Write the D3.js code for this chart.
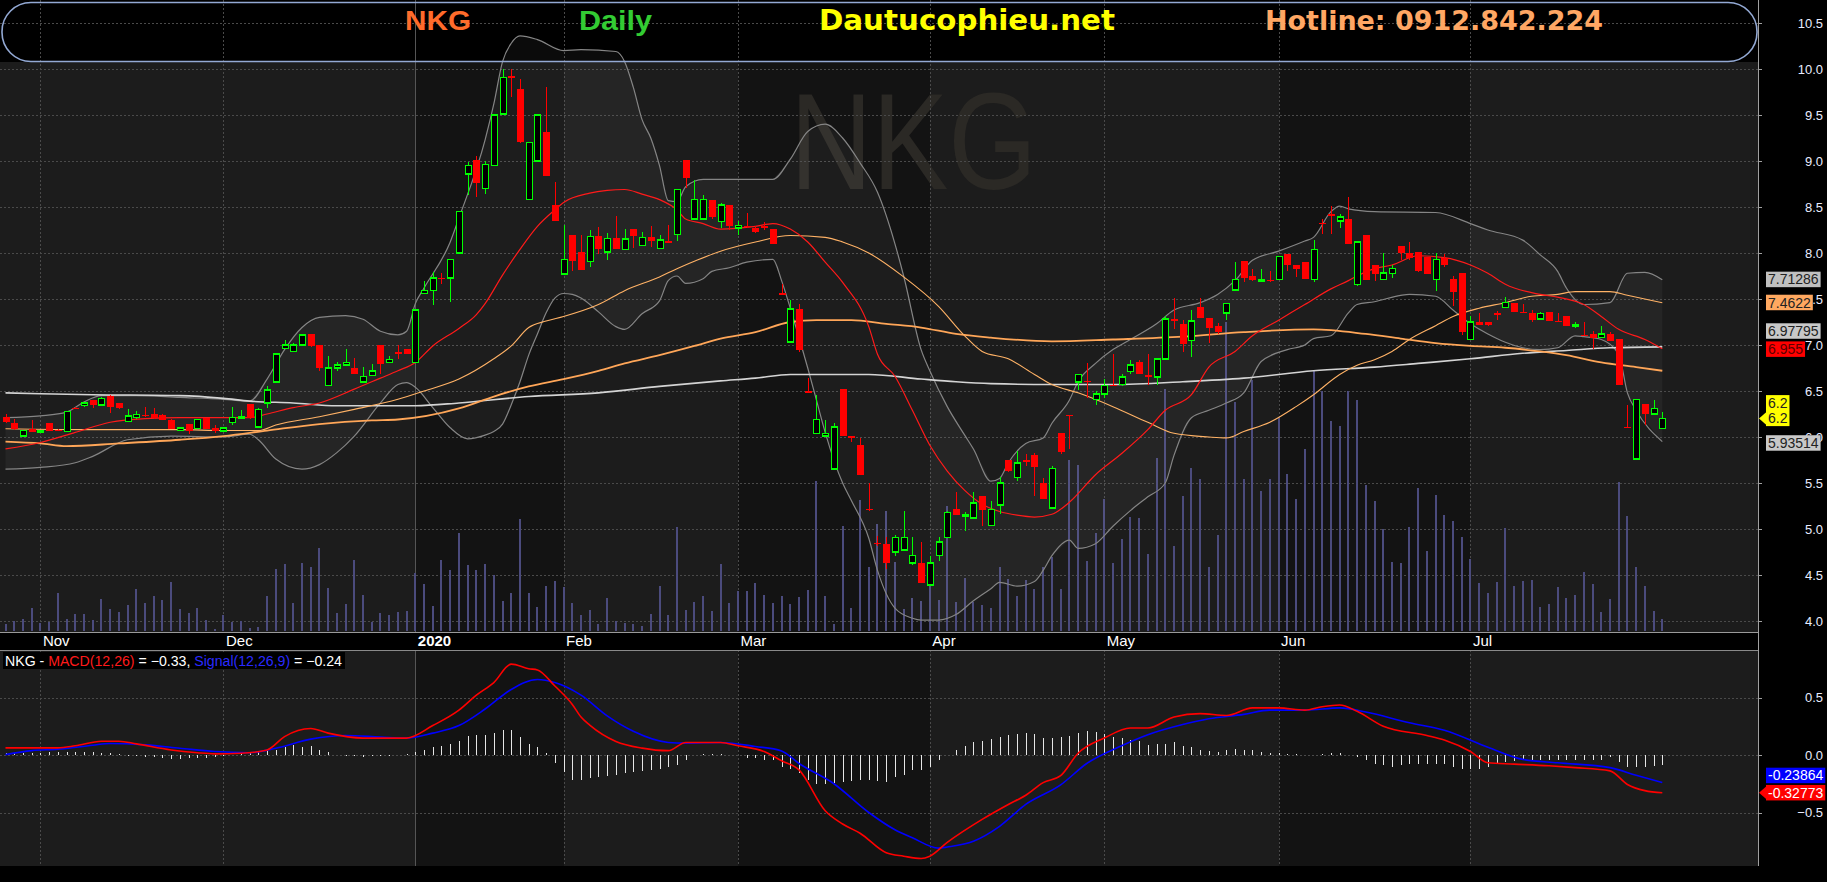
<!DOCTYPE html>
<html><head><meta charset="utf-8">
<script src="https://cdn.jsdelivr.net/npm/d3@7"></script>
<style>html,body{margin:0;padding:0;background:#000;overflow:hidden}svg{display:block}</style>
</head><body><svg id="c" width="1827" height="882"></svg>
<script>
// ---------------- DATA ----------------
const open=[6.22,6.155,6.01,6.09,6.055,6.15,6.08,6.06,6.32,6.34,
6.40,6.35,6.45,6.37,6.17,6.21,6.24,6.245,6.24,6.19,
6.07,6.145,6.09,6.21,6.094,6.065,6.156,6.21,6.355,6.11,
6.37,6.60,6.96,6.93,7.00,7.115,6.995,6.56,6.75,6.78,
6.75,6.60,6.67,7.00,6.81,6.92,6.96,6.81,7.56,7.59,
7.73,7.73,8.00,8.86,9.01,8.70,8.95,9.51,9.92,9.78,
8.58,9.00,9.31,8.52,7.77,8.20,8.01,7.91,8.18,8.01,
8.16,8.04,8.26,8.08,8.17,8.05,8.13,8.20,9.01,8.37,
8.37,8.58,8.34,8.52,8.27,8.295,8.27,8.29,8.26,7.56,
7.03,7.39,6.50,6.04,6.01,5.65,6.52,6.01,5.91,5.22,
4.85,4.84,4.75,4.77,4.63,4.63,4.39,4.71,4.91,5.22,
5.14,5.12,5.36,5.04,5.26,5.75,5.56,5.75,5.80,5.50,
5.23,6.04,6.24,6.60,6.61,6.41,6.47,6.57,6.57,6.71,
6.81,6.67,6.65,6.85,7.28,7.23,7.05,7.41,7.29,7.21,
7.35,7.60,7.91,7.75,7.70,7.71,7.71,7.99,7.87,7.90,
7.71,8.33,8.42,8.35,8.37,7.66,8.20,7.87,7.71,7.775,
8.08,8.00,8.01,7.96,7.71,7.95,7.72,7.78,7.06,7.25,
7.25,7.35,7.41,7.46,7.36,7.35,7.28,7.36,7.265,7.31,
7.21,7.11,7.12,7.08,7.12,7.06,6.11,5.76,6.36,6.25,
6.09];
const high=[6.25,6.2,6.07,6.19,6.07,6.15,6.085,6.275,6.33,6.38,
6.40,6.44,6.46,6.37,6.30,6.28,6.33,6.31,6.245,6.20,
6.10,6.145,6.19,6.21,6.135,6.10,6.33,6.29,6.355,6.32,
6.55,6.90,7.05,7.02,7.11,7.115,6.995,6.88,6.82,6.96,
6.86,6.76,6.79,7.00,6.88,7.00,6.96,7.38,7.70,7.79,
7.78,7.93,8.45,8.99,9.05,9.00,9.50,10.0,10.0,9.89,
9.20,9.50,9.80,8.77,8.30,8.20,8.20,8.25,8.28,8.22,
8.40,8.26,8.26,8.23,8.29,8.20,8.30,8.69,9.01,8.79,
8.63,8.58,8.54,8.52,8.35,8.44,8.29,8.34,8.26,7.66,
7.49,7.45,6.64,6.46,6.19,6.15,6.52,6.01,5.99,5.50,
4.92,4.91,4.94,5.20,4.91,4.86,4.71,4.91,5.20,5.40,
5.18,5.40,5.36,5.30,5.57,5.75,5.85,5.81,5.83,5.55,
5.69,6.04,6.24,6.68,6.80,6.50,6.63,6.90,6.68,6.84,
6.84,6.90,6.85,7.32,7.51,7.27,7.38,7.51,7.29,7.24,
7.45,7.90,7.91,7.83,7.83,7.80,7.96,7.99,7.87,7.90,
8.14,8.37,8.51,8.42,8.61,8.12,8.20,7.87,8.00,7.87,
8.08,8.12,8.01,7.96,8.00,7.99,7.75,7.78,7.31,7.35,
7.25,7.37,7.52,7.46,7.45,7.38,7.36,7.36,7.35,7.31,
7.25,7.25,7.15,7.21,7.14,7.06,6.35,6.41,6.36,6.40,
6.27];
const low=[6.15,6.08,6.0,6.05,6.05,6.06,6.07,6.05,6.30,6.33,
6.32,6.35,6.26,6.30,6.16,6.20,6.22,6.20,6.18,6.09,
6.06,6.03,6.09,6.09,6.045,6.06,6.13,6.21,6.20,6.11,
6.32,6.60,6.96,6.93,7.00,6.98,6.72,6.56,6.72,6.78,
6.68,6.60,6.67,6.69,6.81,6.85,6.905,6.81,7.56,7.43,
7.66,7.47,8.00,8.63,8.61,8.64,8.95,9.50,9.70,9.20,
8.58,9.00,8.84,8.35,7.77,7.80,7.81,7.85,7.99,7.92,
8.04,8.04,8.05,8.08,8.07,8.05,8.12,8.13,8.71,8.37,
8.37,8.37,8.27,8.25,8.20,8.27,8.22,8.25,8.10,7.55,
7.03,6.92,6.49,6.04,6.01,5.65,6.01,5.95,5.59,5.20,
4.82,4.57,4.71,4.77,4.61,4.41,4.39,4.65,4.91,5.15,
4.98,5.12,5.03,5.04,5.16,5.62,5.52,5.69,5.36,5.33,
5.23,5.81,5.87,6.51,6.42,6.35,6.42,6.565,6.55,6.69,
6.68,6.57,6.56,6.85,7.17,6.92,6.87,7.29,7.02,7.12,
7.27,7.60,7.68,7.70,7.70,7.69,7.71,7.80,7.74,7.72,
7.68,8.21,8.21,8.27,8.10,7.64,7.71,7.70,7.71,7.73,
7.92,7.92,7.79,7.775,7.59,7.85,7.42,7.11,7.06,7.22,
7.21,7.27,7.41,7.36,7.355,7.25,7.28,7.26,7.26,7.21,
7.19,7.11,6.96,7.08,7.04,6.56,6.11,5.76,6.13,6.25,
6.09];
const close=[6.16,6.09,6.07,6.054,6.07,6.065,6.07,6.275,6.315,6.37,
6.35,6.42,6.33,6.31,6.23,6.245,6.235,6.21,6.18,6.09,
6.10,6.065,6.19,6.09,6.065,6.10,6.21,6.22,6.21,6.30,
6.51,6.90,7.00,7.00,7.11,6.99,6.75,6.75,6.78,6.81,
6.68,6.66,6.72,6.79,6.845,6.915,6.905,7.38,7.59,7.73,
7.72,7.93,8.45,8.95,8.76,8.96,9.50,9.91,9.91,9.21,
9.20,9.50,8.84,8.35,7.93,7.91,7.81,8.18,8.04,8.16,
8.04,8.15,8.18,8.17,8.13,8.14,8.125,8.69,8.81,8.58,
8.58,8.39,8.52,8.29,8.30,8.29,8.23,8.28,8.10,7.55,
7.39,6.95,6.49,6.19,6.04,6.11,6.01,6.00,5.59,5.21,
4.84,4.63,4.91,4.91,4.71,4.41,4.63,4.86,5.18,5.15,
5.16,5.28,5.21,5.21,5.50,5.63,5.72,5.74,5.67,5.33,
5.66,5.84,6.23,6.68,6.605,6.47,6.56,6.565,6.65,6.78,
6.68,6.665,6.85,7.28,7.27,7.01,7.26,7.29,7.18,7.14,
7.45,7.71,7.73,7.71,7.705,7.70,7.96,7.87,7.83,7.72,
8.04,8.325,8.41,8.39,8.10,8.12,7.71,7.775,7.78,7.83,
8.00,7.95,7.80,7.775,7.93,7.87,7.58,7.14,7.25,7.22,
7.22,7.33,7.46,7.36,7.355,7.27,7.34,7.26,7.26,7.21,
7.22,7.105,7.08,7.12,7.04,6.56,6.105,6.41,6.25,6.31,
6.20];
const volume=[7,10,12,23,8,9,38,12,17,17,11,32,22,19,26,42,28,35,31,49,
22,18,23,11,2,16,9,10,3,4,35,62,67,28,68,64,83,43,18,27,71,36,9,18,16,
19,20,58,47,25,71,61,98,66,61,67,56,30,38,112,38,24,45,50,44,28,16,21,7,33,
10,8,7,5,17,45,16,104,21,29,35,20,67,
28,40,40,48,36,28,35,27,34,41,150,35,7,105,23,131,64,107,120,69,
22,33,30,54,31,125,29,53,29,26,23,64,52,35,51,42,64,
74,42,171,166,70,98,132,68,92,114,113,77,173,242,85,135,163,152,64,96,
309,229,152,251,140,152,213,157,132,182,260,240,210,205,240,231,146,
130,102,69,68,104,143,80,136,116,110,94,72,48,38,49,103,45,50,51,24,
27,44,33,36,59,47,19,32,149,115,64,45,20,12];
const macdHist=[0.015,0.015,0.02,0.02,0.02,0.025,0.03,0.03,0.03,0.025,
0.03,0.02,0.015,0.005,-0.005,-0.01,-0.015,-0.02,-0.03,-0.035,
-0.035,-0.03,-0.03,-0.025,-0.02,-0.01,0.0,0.01,0.025,0.035,
0.04,0.044,0.07,0.09,0.07,0.08,0.045,0.03,0.0,-0.01,
-0.01,-0.015,-0.01,-0.01,-0.005,0.0,0.005,0.03,0.044,0.07,
0.08,0.1,0.126,0.167,0.17,0.175,0.19,0.22,0.22,0.156,
0.1,0.07,0.015,-0.07,-0.147,-0.22,-0.22,-0.2,-0.19,-0.18,
-0.17,-0.16,-0.15,-0.14,-0.13,-0.12,-0.1,-0.09,-0.044,0.0,
0.005,0.005,0.005,0.003,0.0,-0.03,-0.03,-0.044,-0.044,-0.1,
-0.12,-0.16,-0.22,-0.25,-0.25,-0.245,-0.235,-0.23,-0.22,-0.215,
-0.225,-0.235,-0.19,-0.17,-0.13,-0.13,-0.1,-0.044,0.0,0.044,
0.08,0.109,0.126,0.138,0.156,0.176,0.185,0.19,0.185,0.147,
0.147,0.156,0.167,0.19,0.21,0.2,0.185,0.16,0.147,0.13,
0.126,0.088,0.1,0.097,0.109,0.08,0.07,0.044,0.038,0.03,
0.04,0.05,0.045,0.04,0.03,0.02,0.015,0.01,0.005,0.0,
0.003,0.006,0.015,0.02,0.0,-0.015,-0.044,-0.074,-0.088,-0.1,
-0.088,-0.08,-0.074,-0.082,-0.08,-0.082,-0.1,-0.126,-0.126,-0.118,
-0.1,-0.08,-0.06,-0.05,-0.04,-0.044,-0.04,-0.04,-0.04,-0.04,
-0.04,-0.04,-0.04,-0.04,-0.02,-0.06,-0.1,-0.1,-0.1,-0.097,
-0.09];
// indicator lines, read as [candle index, value]
const upperBB=[[0,6.21],[4,6.23],[7,6.27],[9,6.38],[11,6.45],[15,6.45],[20,6.43],[25,6.41],[28,6.39],[30,6.63],[32,6.95],[34,7.19],[36,7.30],[39,7.32],[41,7.28],[43,7.15],[45,7.11],[46,7.15],[47,7.45],[48,7.62],[51,8.12],[52,8.38],[55,9.23],[56,9.62],[57,10.08],[58,10.28],[59,10.36],[61,10.32],[64,10.2],[66,10.21],[70,10.19],[71,10.08],[72,9.8],[73,9.45],[74,9.25],[75,8.95],[76,8.57],[77,8.56],[78,8.72],[80,8.80],[83,8.80],[88,8.80],[90,9.02],[92,9.32],[94,9.40],[96,9.25],[98,8.98],[100,8.66],[102,8.1],[103,7.75],[105,6.95],[106,6.72],[108,6.33],[110,6.02],[111,5.87],[113,5.52],[114,5.55],[115,5.72],[117,5.93],[119,5.99],[120,6.15],[122,6.40],[123,6.60],[125,6.80],[127,6.95],[129,7.06],[132,7.23],[134,7.38],[137,7.46],[139,7.55],[141,7.70],[143,7.92],[146,8.02],[149,8.13],[150,8.17],[152,8.45],[153,8.51],[154,8.48],[157,8.45],[164,8.44],[168,8.32],[170,8.25],[174,8.14],[176,7.98],[178,7.80],[179,7.62],[181,7.44],[184,7.46],[186,7.78],[188,7.79],[190,7.71]];
const lowerBB=[[0,5.65],[4,5.67],[8,5.72],[10,5.79],[14,5.97],[19,6.01],[25,6.00],[28,6.03],[29,5.97],[31,5.76],[34,5.65],[36,5.70],[38,5.83],[40,6.01],[43,6.37],[45,6.57],[46,6.59],[47,6.54],[49,6.32],[51,6.10],[53,5.98],[55,6.02],[56,6.06],[57,6.14],[58,6.35],[59,6.60],[60,6.89],[61,7.12],[62,7.35],[63,7.51],[64,7.56],[65,7.55],[66,7.51],[68,7.36],[70,7.20],[71,7.17],[73,7.34],[75,7.48],[76,7.70],[77,7.75],[78,7.67],[80,7.72],[81,7.80],[83,7.84],[85,7.90],[88,7.93],[89,7.70],[90,7.40],[92,6.75],[93,6.40],[94,6.05],[96,5.50],[97,5.31],[99,4.90],[100,4.55],[102,4.14],[104,4.03],[105,4.01],[107,4.01],[109,4.07],[111,4.22],[113,4.35],[114,4.42],[116,4.38],[118,4.43],[119,4.55],[120,4.71],[122,4.88],[123,4.79],[125,4.84],[127,5.03],[129,5.20],[131,5.35],[133,5.50],[134,5.80],[136,6.21],[138,6.29],[140,6.37],[142,6.48],[144,6.82],[147,6.95],[149,7.00],[150,7.07],[152,7.10],[154,7.35],[155,7.44],[157,7.47],[160,7.54],[161,7.55],[164,7.53],[166,7.38],[168,7.23],[170,7.12],[172,7.03],[174,6.97],[176,6.95],[178,6.97],[180,7.10],[181,7.09],[183,7.06],[185,6.90],[186,6.48],[187,6.29],[190,5.95]];
const sma20=[[0,5.87],[4,5.94],[8,6.05],[12,6.16],[16,6.20],[20,6.21],[28,6.21],[30,6.25],[33,6.32],[36,6.37],[40,6.52],[43,6.64],[45,6.72],[47,6.81],[49,6.99],[52,7.18],[54,7.33],[55,7.45],[57,7.76],[59,8.04],[61,8.29],[63,8.47],[64,8.55],[67,8.65],[69,8.68],[71,8.69],[73,8.64],[75,8.58],[77,8.47],[78,8.37],[80,8.32],[82,8.26],[84,8.27],[86,8.29],[88,8.32],[90,8.26],[92,8.12],[94,7.90],[96,7.68],[99,7.20],[100,6.90],[102,6.66],[104,6.29],[106,5.91],[108,5.63],[110,5.42],[112,5.27],[114,5.19],[116,5.15],[118,5.13],[120,5.16],[122,5.29],[125,5.59],[128,5.82],[131,6.08],[133,6.29],[136,6.46],[138,6.76],[141,6.93],[143,7.10],[146,7.27],[149,7.44],[152,7.61],[154,7.70],[155,7.75],[157,7.83],[159,7.87],[162,7.97],[165,7.95],[168,7.87],[170,7.78],[172,7.66],[176,7.55],[178,7.52],[181,7.44],[183,7.31],[185,7.17],[188,7.06],[190,6.96]];
const sma50=[[0,6.09],[10,6.08],[20,6.08],[25,6.07],[29,6.07],[31,6.13],[36,6.22],[40,6.30],[45,6.41],[48,6.50],[52,6.63],[56,6.85],[58,6.99],[60,7.19],[62,7.26],[64,7.31],[68,7.44],[71,7.59],[75,7.74],[77,7.83],[79,7.91],[82,8.02],[86,8.12],[90,8.19],[94,8.17],[96,8.12],[99,8.0],[103,7.74],[107,7.42],[110,7.10],[112,6.93],[115,6.85],[118,6.68],[120,6.57],[123,6.48],[127,6.33],[131,6.16],[134,6.04],[138,6.0],[140,5.99],[142,6.06],[145,6.16],[148,6.33],[150,6.46],[153,6.68],[155,6.78],[157,6.84],[159,6.93],[161,7.06],[164,7.21],[166,7.31],[169,7.40],[172,7.46],[175,7.53],[178,7.55],[180,7.58],[184,7.58],[186,7.54],[190,7.46]];
const sma100=[[0,5.95],[4,5.93],[7,5.90],[13,5.93],[20,5.97],[25,6.01],[30,6.07],[36,6.14],[42,6.18],[45,6.19],[52,6.31],[56,6.44],[60,6.55],[64,6.63],[68,6.72],[71,6.80],[75,6.89],[79,6.99],[82,7.07],[86,7.14],[90,7.25],[93,7.27],[97,7.27],[101,7.23],[105,7.19],[109,7.12],[113,7.08],[120,7.04],[127,7.06],[135,7.09],[142,7.14],[150,7.17],[156,7.12],[160,7.07],[164,7.02],[168,6.99],[172,6.97],[176,6.93],[179,6.89],[183,6.81],[187,6.76],[190,6.72]];
const sma200=[[0,6.48],[4,6.47],[10,6.46],[20,6.45],[25,6.42],[28,6.39],[33,6.37],[38,6.34],[43,6.34],[47,6.34],[52,6.37],[60,6.44],[68,6.48],[75,6.55],[82,6.61],[86,6.64],[90,6.68],[99,6.68],[105,6.63],[109,6.60],[113,6.58],[120,6.57],[127,6.57],[135,6.60],[142,6.64],[150,6.72],[157,6.76],[162,6.80],[168,6.85],[174,6.91],[179,6.94],[184,6.97],[190,6.98]];
const macdLine=[[0,0.062],[6,0.062],[8,0.08],[11,0.12],[13,0.12],[15,0.097],[19,0.044],[22,0.02],[24,0.01],[27,0.015],[30,0.044],[32,0.16],[35,0.23],[37,0.19],[41,0.147],[46,0.147],[49,0.256],[52,0.39],[54,0.52],[56,0.63],[58,0.79],[60,0.75],[61,0.74],[63,0.60],[65,0.44],[66,0.33],[67,0.26],[70,0.118],[73,0.06],[76,0.038],[78,0.109],[82,0.109],[84,0.08],[87,0.03],[89,-0.05],[91,-0.13],[94,-0.485],[96,-0.6],[98,-0.68],[101,-0.85],[103,-0.88],[105,-0.90],[106,-0.88],[108,-0.76],[112,-0.56],[115,-0.43],[117,-0.35],[119,-0.24],[121,-0.18],[123,0.015],[126,0.147],[129,0.235],[131,0.235],[134,0.33],[137,0.36],[140,0.344],[143,0.41],[146,0.41],[149,0.39],[151,0.42],[153,0.435],[155,0.38],[158,0.25],[163,0.17],[165,0.13],[168,0.03],[170,-0.068],[173,-0.079],[177,-0.094],[180,-0.11],[184,-0.138],[186,-0.256],[188,-0.31],[190,-0.328]];
const signalLine=[[0,0.003],[3,0.038],[6,0.05],[10,0.085],[12,0.1],[16,0.088],[20,0.059],[24,0.03],[28,0.02],[31,0.059],[35,0.138],[39,0.17],[43,0.156],[46,0.147],[49,0.19],[52,0.256],[55,0.40],[58,0.57],[61,0.656],[63,0.63],[66,0.52],[69,0.34],[72,0.206],[76,0.109],[78,0.103],[82,0.109],[86,0.074],[89,0.035],[91,-0.074],[95,-0.25],[99,-0.5],[102,-0.65],[104,-0.72],[107,-0.81],[108,-0.80],[111,-0.75],[114,-0.62],[117,-0.43],[121,-0.26],[124,-0.074],[128,0.08],[131,0.176],[135,0.265],[138,0.315],[142,0.353],[145,0.39],[149,0.39],[153,0.41],[156,0.374],[161,0.28],[165,0.215],[170,0.068],[174,-0.038],[178,-0.068],[184,-0.11],[187,-0.176],[190,-0.24]];
const monthLabels=["Nov","Dec","2020","Feb","Mar","Apr","May","Jun","Jul"];
const monthStart=[4,25,47,64,84,106,126,146,168];
const monthDark=[false,false,false,true,false,true,false,false,true,false]; // Oct..Jul
const priceTicks=[4.0,4.5,5.0,5.5,6.0,6.5,7.0,7.5,8.0,8.5,9.0,9.5,10.0,10.5];
const macdTicks=[-0.5,0.0,0.5];
const lastUpper=7.71286, lastSma50=7.4622, lastSma200=6.97795, lastSma20=6.955, lastClose=6.2, lastLower=5.93514;
const lastSignal=-0.23864, lastMacd=-0.32773;

// ---------------- LAYOUT ----------------
const W=1827,H=882,PR=1758;
const svg=d3.select("#c");
const x=d3.scaleLinear().domain([0,190]).range([5.5,1662.3]);
const yP=d3.scaleLinear().domain([4,10.5]).range([621,23]);
const yV=d3.scaleLinear().domain([0,100]).range([631,531]);
const yM=d3.scaleLinear().domain([-0.5,0.5]).range([812.5,697.5]);
const PTOP=62,PBOT=632,MTOP=650,MBOT=866;

svg.append("rect").attr("width",W).attr("height",H).attr("fill","#000");
// month background bands
const bounds=[0].concat(monthStart.map(i=>x(i))).concat([PR]);
const bg=svg.append("g").attr("shape-rendering","crispEdges");
for(let k=0;k<bounds.length-1;k++){
  const col=monthDark[k]?"#131313":"#1c1c1c";
  bg.append("rect").attr("x",bounds[k]).attr("y",PTOP).attr("width",bounds[k+1]-bounds[k]).attr("height",PBOT-PTOP).attr("fill",col);
  bg.append("rect").attr("x",bounds[k]).attr("y",MTOP).attr("width",bounds[k+1]-bounds[k]).attr("height",MBOT-MTOP).attr("fill",col);
}
// watermark
svg.append("text").attr("x",790).attr("y",189).attr("font-family","Liberation Sans, Arial, sans-serif")
  .attr("font-size",138).attr("fill","#2b2925").attr("textLength",247).attr("lengthAdjust","spacingAndGlyphs").text("NKG");

// grid
const grid=svg.append("g").attr("shape-rendering","crispEdges");
priceTicks.forEach(t=>grid.append("line").attr("x1",0).attr("x2",PR).attr("y1",Math.round(yP(t))+0.5).attr("y2",Math.round(yP(t))+0.5)
  .attr("stroke","#4a4a4a").attr("stroke-dasharray","2,2"));
macdTicks.forEach(t=>grid.append("line").attr("x1",0).attr("x2",PR).attr("y1",Math.round(yM(t))+0.5).attr("y2",Math.round(yM(t))+0.5)
  .attr("stroke","#4a4a4a").attr("stroke-dasharray","2,2"));
monthStart.forEach((m,k)=>{
  const xx=Math.round(x(m))+0.5, solid=monthLabels[k]==="2020";
  [[0,PBOT],[MTOP,MBOT]].forEach(([a,b])=>grid.append("line").attr("x1",xx).attr("x2",xx).attr("y1",a).attr("y2",b)
    .attr("stroke",solid?"#555":"#4a4a4a").attr("stroke-dasharray",solid?null:"2,2"));
});

// volume
const vol=svg.append("g").attr("shape-rendering","crispEdges");
volume.forEach((v,i)=>vol.append("rect").attr("x",Math.round(x(i))-1).attr("y",yV(v)).attr("width",2).attr("height",yV(0)-yV(v)).attr("fill","#4b4b7d"));

// Bollinger fill
const poly=upperBB.concat(lowerBB.slice().reverse());
svg.append("path").attr("d",d3.line().x(d=>x(d[0])).y(d=>yP(d[1])).curve(d3.curveLinearClosed)(poly))
  .attr("fill","#ffffff").attr("fill-opacity",0.045);
const pl=d3.line().x(d=>x(d[0])).y(d=>yP(d[1])).curve(d3.curveMonotoneX);
const lines=[[upperBB,"#858585",1.2],[lowerBB,"#858585",1.2],[sma200,"#d4d4d4",1.6],[sma100,"#ffa658",1.8],[sma50,"#ffb266",1.1],[sma20,"#ff1a1a",1.2]];
lines.forEach(([d,c,w])=>svg.append("path").attr("d",pl(d)).attr("fill","none").attr("stroke",c).attr("stroke-width",w));

// candles
const cg=svg.append("g").attr("shape-rendering","crispEdges");
open.forEach((o,i)=>{
  const c=close[i], up=c>=o, col=up?"#00ff00":"#ff0000", cx=Math.round(x(i));
  cg.append("line").attr("x1",cx+0.5).attr("x2",cx+0.5).attr("y1",yP(high[i])).attr("y2",yP(low[i])).attr("stroke",col).attr("stroke-width",1);
  const top=yP(Math.max(o,c)), bot=yP(Math.min(o,c));
  if(up){
    cg.append("rect").attr("x",cx-2.5).attr("y",top).attr("width",6).attr("height",Math.max(bot-top,1.5))
      .attr("fill","#000").attr("stroke",col).attr("stroke-width",1.5);
  } else {
    cg.append("rect").attr("x",cx-3).attr("y",top).attr("width",7).attr("height",Math.max(bot-top,1.5)).attr("fill",col);
  }
});

// MACD
const mg=svg.append("g").attr("shape-rendering","crispEdges");
macdHist.forEach((h,i)=>mg.append("line").attr("x1",Math.round(x(i))+0.5).attr("x2",Math.round(x(i))+0.5)
  .attr("y1",yM(0)).attr("y2",yM(h)).attr("stroke","#e6e6e6").attr("stroke-width",1));
const ml=d3.line().x(d=>x(d[0])).y(d=>yM(d[1])).curve(d3.curveMonotoneX);
svg.append("path").attr("d",ml(signalLine)).attr("fill","none").attr("stroke","#0000ff").attr("stroke-width",1.6);
svg.append("path").attr("d",ml(macdLine)).attr("fill","none").attr("stroke","#ff0000").attr("stroke-width",1.6);

// x-axis band
svg.append("rect").attr("x",0).attr("y",PBOT).attr("width",PR).attr("height",MTOP-PBOT).attr("fill","#000");
svg.append("line").attr("x1",0).attr("x2",PR).attr("y1",PBOT+0.5).attr("y2",PBOT+0.5).attr("stroke","#9a9a9a");
svg.append("line").attr("x1",0).attr("x2",PR).attr("y1",MTOP+0.5).attr("y2",MTOP+0.5).attr("stroke","#8a8a8a");
monthStart.forEach((m,k)=>svg.append("text").attr("x",x(m)+2.5).attr("y",646).attr("fill","#fff")
  .attr("font-family","Liberation Sans, Arial, sans-serif").attr("font-size",15)
  .attr("font-weight",monthLabels[k]==="2020"?"bold":"normal").text(monthLabels[k]));

// MACD title
svg.append("rect").attr("x",3).attr("y",652).attr("width",342).attr("height",17).attr("fill","#000");
const tt=svg.append("text").attr("x",5).attr("y",666).attr("font-family","Liberation Sans, Arial, sans-serif").attr("font-size",14)
  .attr("textLength",337).attr("lengthAdjust","spacingAndGlyphs");
[["NKG - ","#fff"],["MACD(12,26)","#ff1a1a"],[" = "+d3.format(".2f")(lastMacd)+", ","#fff"],["Signal(12,26,9)","#2a2aff"],[" = "+d3.format(".2f")(lastSignal),"#fff"]]
  .forEach(([s,c])=>tt.append("tspan").attr("fill",c).text(s));

// header
const hd=svg.append("g");
hd.append("rect").attr("x",2).attr("y",2.5).attr("width",1755).attr("height",59).attr("rx",29).attr("ry",29)
  .attr("fill","none").attr("stroke","#93a9d4").attr("stroke-width",1.6);
[["NKG","#ff6b2b",405,66,"Liberation Sans, Arial",28],["Daily","#33cc33",579,73,"Liberation Sans, Arial",28],
 ["Dautucophieu.net","#ffff00",819,296,"DejaVu Sans, Verdana",29],["Hotline: 0912.842.224","#ffa764",1265,338,"DejaVu Sans, Verdana",27]]
 .forEach(([s,c,xx,tl,f,fs])=>hd.append("text").attr("x",xx).attr("y",30).attr("fill",c).attr("font-weight","bold")
   .attr("font-family",f+", sans-serif").attr("font-size",fs).attr("textLength",tl).attr("lengthAdjust","spacingAndGlyphs").text(s));

// right axis
svg.append("rect").attr("x",PR).attr("y",0).attr("width",W-PR).attr("height",H).attr("fill","#000");
svg.append("line").attr("x1",PR+0.5).attr("x2",PR+0.5).attr("y1",0).attr("y2",MBOT).attr("stroke","#a0a0a0");
const ax=svg.append("g").attr("font-family","Liberation Sans, Arial, sans-serif").attr("font-size",13).attr("fill","#e8ecff");
priceTicks.forEach(t=>{
  ax.append("line").attr("x1",PR).attr("x2",PR+4).attr("y1",Math.round(yP(t))+0.5).attr("y2",Math.round(yP(t))+0.5).attr("stroke","#a0a0a0");
  ax.append("text").attr("x",1823).attr("y",yP(t)).attr("dy","0.35em").attr("text-anchor","end").text(d3.format(".1f")(t));
});
macdTicks.forEach(t=>{
  ax.append("line").attr("x1",PR).attr("x2",PR+4).attr("y1",Math.round(yM(t))+0.5).attr("y2",Math.round(yM(t))+0.5).attr("stroke","#a0a0a0");
  ax.append("text").attr("x",1823).attr("y",yM(t)).attr("dy","0.35em").attr("text-anchor","end").text(d3.format(".1f")(t));
});

// value tags
function tag(yc,lines,bgc,fg,arrow,yArrow){
  const g=svg.append("g").attr("font-family","Liberation Sans, Arial, sans-serif").attr("font-size",14);
  const lh=15.5, h=lh*lines.length;
  const texts=lines.map((s,j)=>g.append("text").attr("x",1768).attr("y",yc-h/2+lh*(j+0.5)).attr("dy","0.36em").attr("fill",fg).text(s));
  const w=Math.max(...texts.map(t=>t.node().getComputedTextLength()))+4;
  g.insert("rect","text").attr("x",1766).attr("y",yc-h/2).attr("width",Math.min(w,W-1766)).attr("height",h).attr("fill",bgc);
  if(arrow){ const ya=yArrow===undefined?yc:yArrow;
    g.insert("path","text").attr("d",`M1759,${ya}L1767,${ya-7}L1767,${ya+7}Z`).attr("fill",bgc); }
}
tag(yP(lastUpper),[String(lastUpper)],"#c0c0c0","#222",false);
tag(yP(lastSma50),[String(lastSma50)],"#ffa860","#222",false);
tag(yP(lastSma200)-16,[String(lastSma200)],"#c8c8c8","#222",false);
tag(yP(lastSma20),[String(lastSma20)],"#ff0000","#5a0000",false);
tag(yP(lastClose)-8,[String(lastClose),String(lastClose)],"#ffff00","#222",true,yP(lastClose));
tag(yP(lastLower),[String(lastLower)],"#c8c8c8","#222",false);
tag(yM(lastSignal)-7,[String(lastSignal)],"#0000ff","#fff",false);
tag(yM(lastMacd),[String(lastMacd)],"#ff0000","#fff",true);
</script></body></html>
